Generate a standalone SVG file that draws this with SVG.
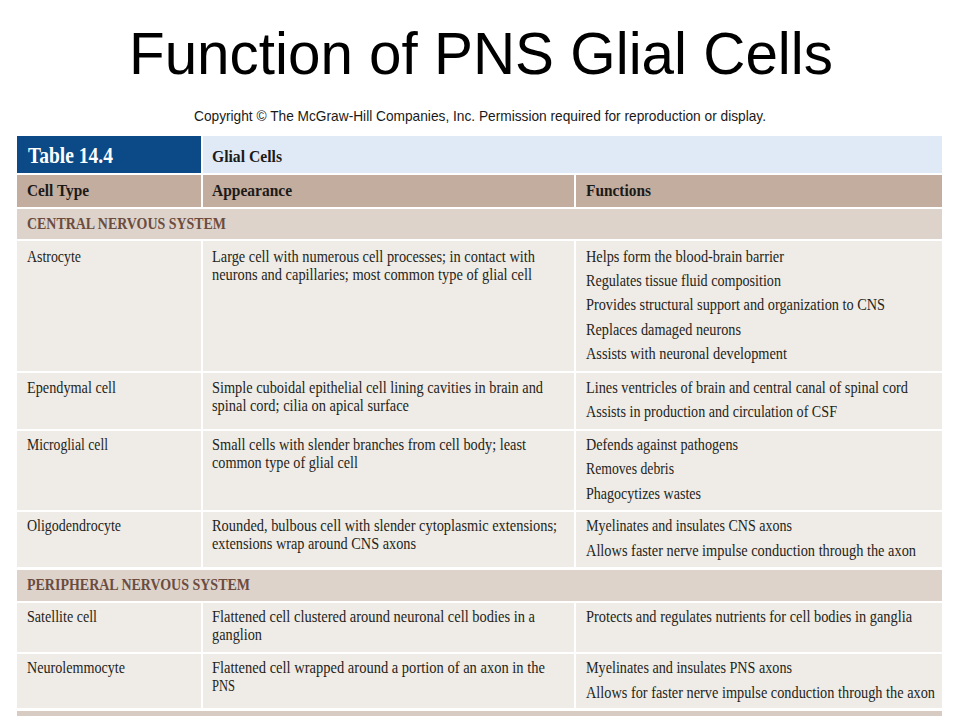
<svg xmlns="http://www.w3.org/2000/svg" width="960" height="720" viewBox="0 0 960 720">
<style>
.t{font-family:"Liberation Serif","Times New Roman",serif;font-size:17px;fill:#231f20}
.h{font-family:"Liberation Serif","Times New Roman",serif;font-size:17.5px;font-weight:bold;fill:#1c1a19}
.s{font-family:"Liberation Serif","Times New Roman",serif;font-size:17px;font-weight:bold;fill:#6b4c3f}
.d{fill:#efebe6}
.hd{fill:#c2ad9e}
.sec{fill:#ddd3cb}
</style>
<rect width="960" height="720" fill="#ffffff"/>
<g id="title">
<text x="129" y="74" font-family="Liberation Sans,Arial,sans-serif" font-size="59" fill="#000" textLength="704" lengthAdjust="spacingAndGlyphs">Function of PNS Glial Cells</text>
</g>
<g id="copyright">
<text x="194" y="121" font-family="Liberation Sans,Arial,sans-serif" font-size="14.5" fill="#1a1a1a" textLength="572" lengthAdjust="spacingAndGlyphs">Copyright © The McGraw-Hill Companies, Inc. Permission required for reproduction or display.</text>
</g>
<g id="table-title">
<rect x="17" y="136" width="184" height="37" fill="#0b4a86"/>
<rect x="203" y="136" width="739" height="37" fill="#dfeaf6"/>
<text x="28" y="163" font-family="Liberation Serif,serif" font-size="23" font-weight="bold" fill="#ffffff" textLength="85" lengthAdjust="spacingAndGlyphs">Table 14.4</text>
<text class="h" x="212" y="162" textLength="70" lengthAdjust="spacingAndGlyphs">Glial Cells</text>
</g>
<g id="header-row">
<rect class="hd" x="17" y="175" width="184" height="32"/>
<rect class="hd" x="203" y="175" width="371" height="32"/>
<rect class="hd" x="576" y="175" width="366" height="32"/>
<text class="h" x="27" y="196" textLength="62" lengthAdjust="spacingAndGlyphs">Cell Type</text>
<text class="h" x="212" y="196" textLength="80" lengthAdjust="spacingAndGlyphs">Appearance</text>
<text class="h" x="586" y="196" textLength="65" lengthAdjust="spacingAndGlyphs">Functions</text>
</g>
<g id="cns-header">
<rect class="sec" x="17" y="209" width="925" height="30"/>
<text class="s" x="27" y="229" textLength="199" lengthAdjust="spacingAndGlyphs">CENTRAL NERVOUS SYSTEM</text>
</g>
<g id="astrocyte">
<rect class="d" x="17" y="241" width="184" height="130"/>
<rect class="d" x="203" y="241" width="371" height="130"/>
<rect class="d" x="576" y="241" width="366" height="130"/>
<text class="t" x="27" y="262" textLength="54" lengthAdjust="spacingAndGlyphs">Astrocyte</text>
<text class="t" x="212" y="262" textLength="323" lengthAdjust="spacingAndGlyphs">Large cell with numerous cell processes; in contact with</text>
<text class="t" x="212" y="280" textLength="320" lengthAdjust="spacingAndGlyphs">neurons and capillaries; most common type of glial cell</text>
<text class="t" x="586" y="262" textLength="198" lengthAdjust="spacingAndGlyphs">Helps form the blood-brain barrier</text>
<text class="t" x="586" y="286" textLength="195" lengthAdjust="spacingAndGlyphs">Regulates tissue fluid composition</text>
<text class="t" x="586" y="310" textLength="299" lengthAdjust="spacingAndGlyphs">Provides structural support and organization to CNS</text>
<text class="t" x="586" y="335" textLength="155" lengthAdjust="spacingAndGlyphs">Replaces damaged neurons</text>
<text class="t" x="586" y="359" textLength="201" lengthAdjust="spacingAndGlyphs">Assists with neuronal development</text>
</g>
<g id="ependymal">
<rect class="d" x="17" y="373" width="184" height="56"/>
<rect class="d" x="203" y="373" width="371" height="56"/>
<rect class="d" x="576" y="373" width="366" height="56"/>
<text class="t" x="27" y="393" textLength="89" lengthAdjust="spacingAndGlyphs">Ependymal cell</text>
<text class="t" x="212" y="393" textLength="331" lengthAdjust="spacingAndGlyphs">Simple cuboidal epithelial cell lining cavities in brain and</text>
<text class="t" x="212" y="411" textLength="197" lengthAdjust="spacingAndGlyphs">spinal cord; cilia on apical surface</text>
<text class="t" x="586" y="393" textLength="322" lengthAdjust="spacingAndGlyphs">Lines ventricles of brain and central canal of spinal cord</text>
<text class="t" x="586" y="417" textLength="251" lengthAdjust="spacingAndGlyphs">Assists in production and circulation of CSF</text>
</g>
<g id="microglial">
<rect class="d" x="17" y="431" width="184" height="79"/>
<rect class="d" x="203" y="431" width="371" height="79"/>
<rect class="d" x="576" y="431" width="366" height="79"/>
<text class="t" x="27" y="450" textLength="81" lengthAdjust="spacingAndGlyphs">Microglial cell</text>
<text class="t" x="212" y="450" textLength="314" lengthAdjust="spacingAndGlyphs">Small cells with slender branches from cell body; least</text>
<text class="t" x="212" y="468" textLength="146" lengthAdjust="spacingAndGlyphs">common type of glial cell</text>
<text class="t" x="586" y="450" textLength="152" lengthAdjust="spacingAndGlyphs">Defends against pathogens</text>
<text class="t" x="586" y="474" textLength="88" lengthAdjust="spacingAndGlyphs">Removes debris</text>
<text class="t" x="586" y="499" textLength="115" lengthAdjust="spacingAndGlyphs">Phagocytizes wastes</text>
</g>
<g id="oligodendrocyte">
<rect class="d" x="17" y="512" width="184" height="55"/>
<rect class="d" x="203" y="512" width="371" height="55"/>
<rect class="d" x="576" y="512" width="366" height="55"/>
<text class="t" x="27" y="531" textLength="94" lengthAdjust="spacingAndGlyphs">Oligodendrocyte</text>
<text class="t" x="212" y="531" textLength="345" lengthAdjust="spacingAndGlyphs">Rounded, bulbous cell with slender cytoplasmic extensions;</text>
<text class="t" x="212" y="549" textLength="204" lengthAdjust="spacingAndGlyphs">extensions wrap around CNS axons</text>
<text class="t" x="586" y="531" textLength="206" lengthAdjust="spacingAndGlyphs">Myelinates and insulates CNS axons</text>
<text class="t" x="586" y="556" textLength="330" lengthAdjust="spacingAndGlyphs">Allows faster nerve impulse conduction through the axon</text>
</g>
<g id="pns-header">
<rect class="sec" x="17" y="570" width="925" height="31"/>
<text class="s" x="27" y="590" textLength="223" lengthAdjust="spacingAndGlyphs">PERIPHERAL NERVOUS SYSTEM</text>
</g>
<g id="satellite">
<rect class="d" x="17" y="603" width="184" height="49"/>
<rect class="d" x="203" y="603" width="371" height="49"/>
<rect class="d" x="576" y="603" width="366" height="49"/>
<text class="t" x="27" y="622" textLength="70" lengthAdjust="spacingAndGlyphs">Satellite cell</text>
<text class="t" x="212" y="622" textLength="323" lengthAdjust="spacingAndGlyphs">Flattened cell clustered around neuronal cell bodies in a</text>
<text class="t" x="212" y="640" textLength="50" lengthAdjust="spacingAndGlyphs">ganglion</text>
<text class="t" x="586" y="622" textLength="326" lengthAdjust="spacingAndGlyphs">Protects and regulates nutrients for cell bodies in ganglia</text>
</g>
<g id="neurolemmocyte">
<rect class="d" x="17" y="654" width="184" height="54"/>
<rect class="d" x="203" y="654" width="371" height="54"/>
<rect class="d" x="576" y="654" width="366" height="54"/>
<text class="t" x="27" y="673" textLength="98" lengthAdjust="spacingAndGlyphs">Neurolemmocyte</text>
<text class="t" x="212" y="673" textLength="333" lengthAdjust="spacingAndGlyphs">Flattened cell wrapped around a portion of an axon in the</text>
<text class="t" x="212" y="691" textLength="23" lengthAdjust="spacingAndGlyphs">PNS</text>
<text class="t" x="586" y="673" textLength="206" lengthAdjust="spacingAndGlyphs">Myelinates and insulates PNS axons</text>
<text class="t" x="586" y="698" textLength="349" lengthAdjust="spacingAndGlyphs">Allows for faster nerve impulse conduction through the axon</text>
</g>
<g id="table-bottom">
<rect x="17" y="711" width="925" height="5" fill="#d8ccc2"/>
</g>
</svg>
